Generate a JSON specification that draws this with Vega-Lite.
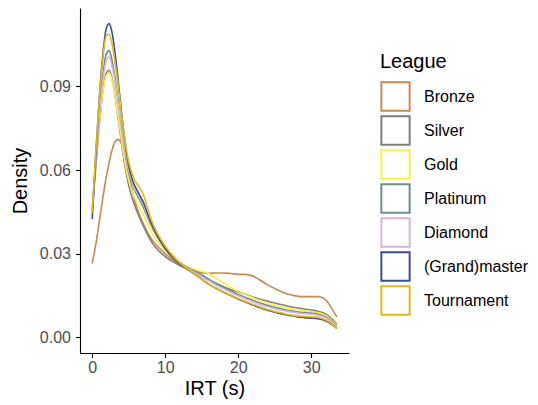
{
"$schema":"https://vega.github.io/schema/vega-lite/v6.json",
"width":269,"height":345,
"autosize":{"type":"none"},
"padding":{"left":80,"top":8,"right":189,"bottom":52},
"config":{"view":{"stroke":null},"font":"Liberation Sans"},
"data":{"values":[
{"league":"Bronze","irt":0,"density":0.0265},{"league":"Bronze","irt":0.5,"density":0.0335},{"league":"Bronze","irt":1,"density":0.042},{"league":"Bronze","irt":1.5,"density":0.0508},{"league":"Bronze","irt":1.9,"density":0.0572},{"league":"Bronze","irt":2.3,"density":0.0625},{"league":"Bronze","irt":2.7,"density":0.067},{"league":"Bronze","irt":3.1,"density":0.07},{"league":"Bronze","irt":3.5,"density":0.071},{"league":"Bronze","irt":4,"density":0.0695},{"league":"Bronze","irt":4.5,"density":0.065},{"league":"Bronze","irt":5,"density":0.0585},{"league":"Bronze","irt":5.5,"density":0.0525},{"league":"Bronze","irt":6,"density":0.0475},{"league":"Bronze","irt":6.5,"density":0.0438},{"league":"Bronze","irt":7,"density":0.0408},{"league":"Bronze","irt":7.5,"density":0.038},{"league":"Bronze","irt":8,"density":0.0357},{"league":"Bronze","irt":9,"density":0.0325},{"league":"Bronze","irt":10,"density":0.03},{"league":"Bronze","irt":11,"density":0.028},{"league":"Bronze","irt":12,"density":0.0265},{"league":"Bronze","irt":13,"density":0.0252},{"league":"Bronze","irt":14,"density":0.024},{"league":"Bronze","irt":15,"density":0.0232},{"league":"Bronze","irt":16,"density":0.023},{"league":"Bronze","irt":17,"density":0.0231},{"league":"Bronze","irt":18,"density":0.0231},{"league":"Bronze","irt":19,"density":0.0229},{"league":"Bronze","irt":20,"density":0.0226},{"league":"Bronze","irt":21,"density":0.0226},{"league":"Bronze","irt":22,"density":0.022},{"league":"Bronze","irt":23,"density":0.0205},{"league":"Bronze","irt":24,"density":0.0189},{"league":"Bronze","irt":25,"density":0.0175},{"league":"Bronze","irt":26,"density":0.0163},{"league":"Bronze","irt":27,"density":0.0154},{"league":"Bronze","irt":28,"density":0.0148},{"league":"Bronze","irt":29,"density":0.0146},{"league":"Bronze","irt":30,"density":0.0146},{"league":"Bronze","irt":31,"density":0.0146},{"league":"Bronze","irt":32,"density":0.0134},{"league":"Bronze","irt":33,"density":0.0096},{"league":"Bronze","irt":33.5,"density":0.0073},
{"league":"Silver","irt":0,"density":0.046},{"league":"Silver","irt":0.5,"density":0.0615},{"league":"Silver","irt":1,"density":0.077},{"league":"Silver","irt":1.5,"density":0.089},{"league":"Silver","irt":1.9,"density":0.0945},{"league":"Silver","irt":2.3,"density":0.0958},{"league":"Silver","irt":2.7,"density":0.093},{"league":"Silver","irt":3.1,"density":0.087},{"league":"Silver","irt":3.5,"density":0.0795},{"league":"Silver","irt":4,"density":0.07},{"league":"Silver","irt":4.5,"density":0.0612},{"league":"Silver","irt":5,"density":0.0545},{"league":"Silver","irt":5.5,"density":0.0497},{"league":"Silver","irt":6,"density":0.046},{"league":"Silver","irt":6.5,"density":0.0428},{"league":"Silver","irt":7,"density":0.04},{"league":"Silver","irt":7.5,"density":0.0373},{"league":"Silver","irt":8,"density":0.0348},{"league":"Silver","irt":9,"density":0.0313},{"league":"Silver","irt":10,"density":0.029},{"league":"Silver","irt":11,"density":0.0272},{"league":"Silver","irt":12,"density":0.0258},{"league":"Silver","irt":13,"density":0.0245},{"league":"Silver","irt":14,"density":0.0232},{"league":"Silver","irt":15,"density":0.0219},{"league":"Silver","irt":16,"density":0.0205},{"league":"Silver","irt":17,"density":0.0193},{"league":"Silver","irt":18,"density":0.0182},{"league":"Silver","irt":19,"density":0.0172},{"league":"Silver","irt":20,"density":0.0163},{"league":"Silver","irt":21,"density":0.0154},{"league":"Silver","irt":22,"density":0.0145},{"league":"Silver","irt":23,"density":0.0137},{"league":"Silver","irt":24,"density":0.013},{"league":"Silver","irt":25,"density":0.0123},{"league":"Silver","irt":26,"density":0.0117},{"league":"Silver","irt":27,"density":0.0111},{"league":"Silver","irt":28,"density":0.0106},{"league":"Silver","irt":29,"density":0.0102},{"league":"Silver","irt":30,"density":0.0098},{"league":"Silver","irt":31,"density":0.0093},{"league":"Silver","irt":32,"density":0.0083},{"league":"Silver","irt":33,"density":0.0062},{"league":"Silver","irt":33.5,"density":0.0047},
{"league":"Gold","irt":0,"density":0.048},{"league":"Gold","irt":0.5,"density":0.063},{"league":"Gold","irt":1,"density":0.0775},{"league":"Gold","irt":1.5,"density":0.0885},{"league":"Gold","irt":1.9,"density":0.0938},{"league":"Gold","irt":2.3,"density":0.0949},{"league":"Gold","irt":2.7,"density":0.0925},{"league":"Gold","irt":3.1,"density":0.087},{"league":"Gold","irt":3.5,"density":0.08},{"league":"Gold","irt":4,"density":0.071},{"league":"Gold","irt":4.5,"density":0.0625},{"league":"Gold","irt":5,"density":0.0562},{"league":"Gold","irt":5.5,"density":0.052},{"league":"Gold","irt":6,"density":0.049},{"league":"Gold","irt":6.5,"density":0.0465},{"league":"Gold","irt":7,"density":0.044},{"league":"Gold","irt":7.5,"density":0.0412},{"league":"Gold","irt":8,"density":0.0385},{"league":"Gold","irt":9,"density":0.0343},{"league":"Gold","irt":10,"density":0.0312},{"league":"Gold","irt":11,"density":0.0287},{"league":"Gold","irt":12,"density":0.0268},{"league":"Gold","irt":13,"density":0.0254},{"league":"Gold","irt":14,"density":0.0244},{"league":"Gold","irt":15,"density":0.0238},{"league":"Gold","irt":16,"density":0.0228},{"league":"Gold","irt":17,"density":0.0212},{"league":"Gold","irt":18,"density":0.0195},{"league":"Gold","irt":19,"density":0.0179},{"league":"Gold","irt":20,"density":0.0165},{"league":"Gold","irt":21,"density":0.0153},{"league":"Gold","irt":22,"density":0.0142},{"league":"Gold","irt":23,"density":0.0132},{"league":"Gold","irt":24,"density":0.0123},{"league":"Gold","irt":25,"density":0.0116},{"league":"Gold","irt":26,"density":0.011},{"league":"Gold","irt":27,"density":0.0104},{"league":"Gold","irt":28,"density":0.01},{"league":"Gold","irt":29,"density":0.0096},{"league":"Gold","irt":30,"density":0.0093},{"league":"Gold","irt":31,"density":0.0089},{"league":"Gold","irt":32,"density":0.0079},{"league":"Gold","irt":33,"density":0.0057},{"league":"Gold","irt":33.5,"density":0.0043},
{"league":"Platinum","irt":0,"density":0.0445},{"league":"Platinum","irt":0.5,"density":0.0635},{"league":"Platinum","irt":1,"density":0.0815},{"league":"Platinum","irt":1.5,"density":0.095},{"league":"Platinum","irt":1.9,"density":0.1015},{"league":"Platinum","irt":2.3,"density":0.1028},{"league":"Platinum","irt":2.7,"density":0.0995},{"league":"Platinum","irt":3.1,"density":0.0935},{"league":"Platinum","irt":3.5,"density":0.086},{"league":"Platinum","irt":4,"density":0.0755},{"league":"Platinum","irt":4.5,"density":0.0665},{"league":"Platinum","irt":5,"density":0.0595},{"league":"Platinum","irt":5.5,"density":0.055},{"league":"Platinum","irt":6,"density":0.0518},{"league":"Platinum","irt":6.5,"density":0.0493},{"league":"Platinum","irt":7,"density":0.0466},{"league":"Platinum","irt":7.5,"density":0.0436},{"league":"Platinum","irt":8,"density":0.0405},{"league":"Platinum","irt":9,"density":0.0357},{"league":"Platinum","irt":10,"density":0.0322},{"league":"Platinum","irt":11,"density":0.0292},{"league":"Platinum","irt":12,"density":0.0269},{"league":"Platinum","irt":13,"density":0.0251},{"league":"Platinum","irt":14,"density":0.0237},{"league":"Platinum","irt":15,"density":0.0224},{"league":"Platinum","irt":16,"density":0.0208},{"league":"Platinum","irt":17,"density":0.0193},{"league":"Platinum","irt":18,"density":0.0179},{"league":"Platinum","irt":19,"density":0.0166},{"league":"Platinum","irt":20,"density":0.0154},{"league":"Platinum","irt":21,"density":0.0143},{"league":"Platinum","irt":22,"density":0.0133},{"league":"Platinum","irt":23,"density":0.0123},{"league":"Platinum","irt":24,"density":0.0115},{"league":"Platinum","irt":25,"density":0.0108},{"league":"Platinum","irt":26,"density":0.0102},{"league":"Platinum","irt":27,"density":0.0096},{"league":"Platinum","irt":28,"density":0.0092},{"league":"Platinum","irt":29,"density":0.0089},{"league":"Platinum","irt":30,"density":0.0087},{"league":"Platinum","irt":31,"density":0.0083},{"league":"Platinum","irt":32,"density":0.0073},{"league":"Platinum","irt":33,"density":0.0053},{"league":"Platinum","irt":33.5,"density":0.004},
{"league":"Diamond","irt":0,"density":0.046},{"league":"Diamond","irt":0.5,"density":0.064},{"league":"Diamond","irt":1,"density":0.0805},{"league":"Diamond","irt":1.5,"density":0.093},{"league":"Diamond","irt":1.9,"density":0.099},{"league":"Diamond","irt":2.3,"density":0.1005},{"league":"Diamond","irt":2.7,"density":0.0975},{"league":"Diamond","irt":3.1,"density":0.092},{"league":"Diamond","irt":3.5,"density":0.085},{"league":"Diamond","irt":4,"density":0.0752},{"league":"Diamond","irt":4.5,"density":0.0665},{"league":"Diamond","irt":5,"density":0.0598},{"league":"Diamond","irt":5.5,"density":0.0555},{"league":"Diamond","irt":6,"density":0.0525},{"league":"Diamond","irt":6.5,"density":0.0502},{"league":"Diamond","irt":7,"density":0.0476},{"league":"Diamond","irt":7.5,"density":0.0443},{"league":"Diamond","irt":8,"density":0.041},{"league":"Diamond","irt":9,"density":0.036},{"league":"Diamond","irt":10,"density":0.0323},{"league":"Diamond","irt":11,"density":0.0292},{"league":"Diamond","irt":12,"density":0.0268},{"league":"Diamond","irt":13,"density":0.0249},{"league":"Diamond","irt":14,"density":0.0233},{"league":"Diamond","irt":15,"density":0.0218},{"league":"Diamond","irt":16,"density":0.0202},{"league":"Diamond","irt":17,"density":0.0187},{"league":"Diamond","irt":18,"density":0.0174},{"league":"Diamond","irt":19,"density":0.0161},{"league":"Diamond","irt":20,"density":0.0149},{"league":"Diamond","irt":21,"density":0.0138},{"league":"Diamond","irt":22,"density":0.0128},{"league":"Diamond","irt":23,"density":0.0118},{"league":"Diamond","irt":24,"density":0.011},{"league":"Diamond","irt":25,"density":0.0103},{"league":"Diamond","irt":26,"density":0.0097},{"league":"Diamond","irt":27,"density":0.0092},{"league":"Diamond","irt":28,"density":0.0088},{"league":"Diamond","irt":29,"density":0.0085},{"league":"Diamond","irt":30,"density":0.0083},{"league":"Diamond","irt":31,"density":0.0079},{"league":"Diamond","irt":32,"density":0.007},{"league":"Diamond","irt":33,"density":0.0051},{"league":"Diamond","irt":33.5,"density":0.0038},
{"league":"(Grand)master","irt":0,"density":0.0425},{"league":"(Grand)master","irt":0.5,"density":0.066},{"league":"(Grand)master","irt":1,"density":0.087},{"league":"(Grand)master","irt":1.5,"density":0.1025},{"league":"(Grand)master","irt":1.9,"density":0.1105},{"league":"(Grand)master","irt":2.3,"density":0.1125},{"league":"(Grand)master","irt":2.7,"density":0.1095},{"league":"(Grand)master","irt":3.1,"density":0.1025},{"league":"(Grand)master","irt":3.5,"density":0.0935},{"league":"(Grand)master","irt":4,"density":0.081},{"league":"(Grand)master","irt":4.5,"density":0.07},{"league":"(Grand)master","irt":5,"density":0.0615},{"league":"(Grand)master","irt":5.5,"density":0.0565},{"league":"(Grand)master","irt":6,"density":0.0535},{"league":"(Grand)master","irt":6.5,"density":0.051},{"league":"(Grand)master","irt":7,"density":0.0485},{"league":"(Grand)master","irt":7.5,"density":0.045},{"league":"(Grand)master","irt":8,"density":0.0415},{"league":"(Grand)master","irt":9,"density":0.036},{"league":"(Grand)master","irt":10,"density":0.0318},{"league":"(Grand)master","irt":11,"density":0.0287},{"league":"(Grand)master","irt":12,"density":0.0263},{"league":"(Grand)master","irt":13,"density":0.0245},{"league":"(Grand)master","irt":14,"density":0.0227},{"league":"(Grand)master","irt":15,"density":0.0208},{"league":"(Grand)master","irt":16,"density":0.019},{"league":"(Grand)master","irt":17,"density":0.0175},{"league":"(Grand)master","irt":18,"density":0.0162},{"league":"(Grand)master","irt":19,"density":0.015},{"league":"(Grand)master","irt":20,"density":0.0138},{"league":"(Grand)master","irt":21,"density":0.0127},{"league":"(Grand)master","irt":22,"density":0.0116},{"league":"(Grand)master","irt":23,"density":0.0106},{"league":"(Grand)master","irt":24,"density":0.0097},{"league":"(Grand)master","irt":25,"density":0.009},{"league":"(Grand)master","irt":26,"density":0.0084},{"league":"(Grand)master","irt":27,"density":0.0079},{"league":"(Grand)master","irt":28,"density":0.0074},{"league":"(Grand)master","irt":29,"density":0.0071},{"league":"(Grand)master","irt":30,"density":0.0069},{"league":"(Grand)master","irt":31,"density":0.0066},{"league":"(Grand)master","irt":32,"density":0.0059},{"league":"(Grand)master","irt":33,"density":0.0043},{"league":"(Grand)master","irt":33.5,"density":0.0032},
{"league":"Tournament","irt":0,"density":0.0445},{"league":"Tournament","irt":0.5,"density":0.067},{"league":"Tournament","irt":1,"density":0.0865},{"league":"Tournament","irt":1.5,"density":0.101},{"league":"Tournament","irt":1.9,"density":0.108},{"league":"Tournament","irt":2.3,"density":0.1088},{"league":"Tournament","irt":2.7,"density":0.1055},{"league":"Tournament","irt":3.1,"density":0.099},{"league":"Tournament","irt":3.5,"density":0.0915},{"league":"Tournament","irt":4,"density":0.0805},{"league":"Tournament","irt":4.5,"density":0.0705},{"league":"Tournament","irt":5,"density":0.063},{"league":"Tournament","irt":5.5,"density":0.0585},{"league":"Tournament","irt":6,"density":0.0556},{"league":"Tournament","irt":6.5,"density":0.0537},{"league":"Tournament","irt":7,"density":0.0512},{"league":"Tournament","irt":7.5,"density":0.0472},{"league":"Tournament","irt":8,"density":0.0428},{"league":"Tournament","irt":9,"density":0.037},{"league":"Tournament","irt":10,"density":0.0328},{"league":"Tournament","irt":11,"density":0.0294},{"league":"Tournament","irt":12,"density":0.0267},{"league":"Tournament","irt":13,"density":0.0247},{"league":"Tournament","irt":14,"density":0.0228},{"league":"Tournament","irt":15,"density":0.0208},{"league":"Tournament","irt":16,"density":0.019},{"league":"Tournament","irt":17,"density":0.0175},{"league":"Tournament","irt":18,"density":0.0163},{"league":"Tournament","irt":19,"density":0.0151},{"league":"Tournament","irt":20,"density":0.0139},{"league":"Tournament","irt":21,"density":0.0129},{"league":"Tournament","irt":22,"density":0.0119},{"league":"Tournament","irt":23,"density":0.0109},{"league":"Tournament","irt":24,"density":0.01},{"league":"Tournament","irt":25,"density":0.0093},{"league":"Tournament","irt":26,"density":0.0087},{"league":"Tournament","irt":27,"density":0.0081},{"league":"Tournament","irt":28,"density":0.0077},{"league":"Tournament","irt":29,"density":0.0075},{"league":"Tournament","irt":30,"density":0.0074},{"league":"Tournament","irt":31,"density":0.0071},{"league":"Tournament","irt":32,"density":0.0062},{"league":"Tournament","irt":33,"density":0.0045},{"league":"Tournament","irt":33.5,"density":0.0032}
]},
"mark":{"type":"line","interpolate":"monotone","strokeWidth":1.6},
"encoding":{
"x":{"field":"irt","type":"quantitative","title":"IRT (s)",
"scale":{"domain":[-1.675,35.175],"nice":false,"zero":false},
"axis":{"values":[0,10,20,30],"grid":false,"domainColor":"black","domainWidth":1.1,"tickColor":"black","tickWidth":1.1,"tickSize":4.5,"labelPadding":2,"labelFont":"Liberation Sans","labelFontSize":16,"labelColor":"#4D4D4D","titleFont":"Liberation Sans","titleFontSize":20,"titleFontWeight":"normal","titleColor":"black","titlePadding":3}},
"y":{"field":"density","type":"quantitative","title":"Density",
"scale":{"domain":[-0.0056,0.1181],"nice":false,"zero":false},
"axis":{"values":[0,0.03,0.06,0.09],"format":".2f","grid":false,"domainColor":"black","domainWidth":1.1,"tickColor":"black","tickWidth":1.1,"tickSize":4.5,"labelPadding":5,"labelFont":"Liberation Sans","labelFontSize":16,"labelColor":"#4D4D4D","titleFont":"Liberation Sans","titleFontSize":20,"titleFontWeight":"normal","titleColor":"black","titlePadding":9}},
"color":{"field":"league","type":"nominal","title":"League",
"scale":{"domain":["Bronze","Silver","Gold","Platinum","Diamond","(Grand)master","Tournament"],
"range":["#C88A4E","#7F7F7F","#F9F13A","#6B8E8E","#D9B3D9","#3D4F95","#E5B813"]},
"legend":{"orient":"none","legendX":300,"legendY":44,"symbolType":"square","symbolSize":800,"symbolStrokeWidth":2,"symbolFillColor":"transparent","rowPadding":-4.1,"labelOffset":13,"labelFont":"Liberation Sans","labelFontSize":16,"labelColor":"black","titleFont":"Liberation Sans","titleFontSize":20,"titleFontWeight":"normal","titleColor":"black","titlePadding":9}}
}
}
